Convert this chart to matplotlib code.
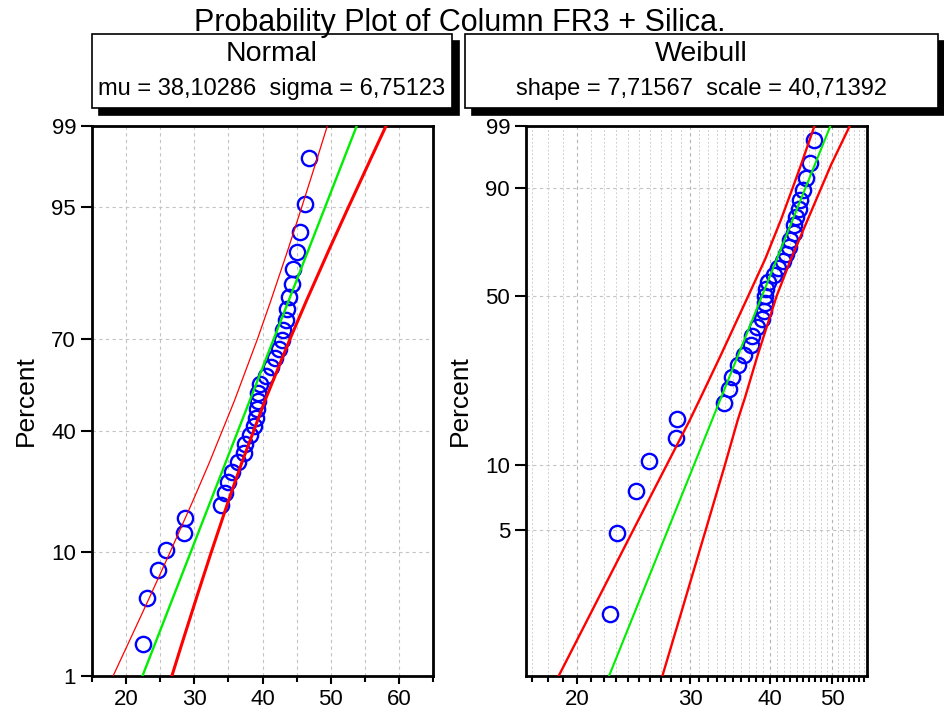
"""Probability plots (normal and Weibull) for column FR3 + Silica."""

from statistics import NormalDist

import matplotlib

matplotlib.use("Agg")
import matplotlib.pyplot as plt
import numpy as np
from matplotlib.patches import Rectangle
from matplotlib.ticker import FixedFormatter, FixedLocator, NullFormatter, NullLocator

plt.rcParams["font.family"] = ["Liberation Sans", "DejaVu Sans"]

# sorted sample (35 points), same in both panels
x_values = [22.5, 23.1, 24.7, 25.9, 28.5, 28.6, 33.9, 34.5, 34.9, 35.6,
            36.4, 37.3, 37.4, 38.2, 38.8, 39.1, 39.2, 39.3, 39.4, 39.7,
            40.5, 41.2, 41.8, 42.4, 42.8, 43.0, 43.5, 43.6, 43.9, 44.3,
            44.5, 45.0, 45.5, 46.2, 46.8]
# plotting positions in percent
percent = [1.98, 4.80, 7.63, 10.45, 13.28, 16.10, 18.93, 21.75, 24.58, 27.40,
           30.23, 33.05, 35.88, 38.70, 41.53, 44.35, 47.18, 50.00, 52.82, 55.65,
           58.47, 61.30, 64.12, 66.95, 69.77, 72.60, 75.42, 78.25, 81.07, 83.90,
           86.72, 89.55, 92.37, 95.20, 98.02]

norm_params = "mu = 38,10286  sigma = 6,75123"
weib_params = "shape = 7,71567  scale = 40,71392"

# fitted lines: x at 1 % and 99 %
line_pct = [1, 99]
norm_fit_x = [22.40, 53.81]
weib_fit_x = [22.43, 49.63]

# confidence bounds
norm_band_pct = [1, 2, 5, 10, 20, 30, 50, 70, 80, 90, 95, 98, 99]
norm_lower = [18.09, 20.29, 23.57, 26.43, 29.82, 32.18, 35.87, 39.26, 41.18, 43.74, 45.78, 48.03, 49.50]
norm_upper = [26.71, 28.18, 30.43, 32.47, 35.02, 36.95, 40.34, 44.03, 46.39, 49.77, 52.64, 55.91, 58.11]

weib_band_pct = [1, 2, 5, 10, 16, 20, 30, 50, 65, 80, 90, 95, 99]
weib_lower = [18.72, 21.00, 24.48, 27.58, 29.98, 31.15, 33.47, 36.96, 39.30, 41.53, 43.33, 44.68, 46.87]
weib_upper = [27.16, 29.04, 31.74, 33.99, 35.60, 36.53, 38.21, 40.93, 43.10, 45.70, 48.00, 49.77, 53.20]

norm_yticks = [1, 10, 40, 70, 95, 99]
weib_yticks = [5, 10, 50, 90, 99]
weib_xticks = [20, 30, 40, 50]

W, H = 945, 718
_nd = NormalDist()
_ppf = np.vectorize(_nd.inv_cdf, otypes=[float])
_cdf = np.vectorize(_nd.cdf, otypes=[float])


def normal_fwd(p):
    p = np.clip(np.asarray(p, dtype=float) / 100.0, 1e-6, 1 - 1e-6)
    return _ppf(p)


def normal_inv(z):
    return 100.0 * _cdf(np.asarray(z, dtype=float))


def weibull_fwd(p):
    p = np.clip(np.asarray(p, dtype=float) / 100.0, 1e-6, 1 - 1e-6)
    return np.log(-np.log(1 - p))


def weibull_inv(w):
    return 100.0 * (1 - np.exp(-np.exp(np.asarray(w, dtype=float))))


def header_box(fig, x0, x1, name, params):
    """Framed header with a drop shadow, pixel coords from the top-left."""
    top, bottom, off = 34, 108, 7
    for dx, face in ((off, "black"), (0, "white")):
        fig.patches.append(Rectangle(
            ((x0 + dx) / W, 1 - (bottom + dx) / H), (x1 - x0) / W, (bottom - top) / H,
            transform=fig.transFigure, facecolor=face, edgecolor="black", lw=1.2))
    cx = (x0 + x1) / 2 / W
    fig.text(cx, 1 - 54 / H, name, ha="center", va="center", fontsize=20.5)
    fig.text(cx, 1 - 89 / H, params, ha="center", va="center", fontsize=17)


def style_axes(ax):
    for sp in ax.spines.values():
        sp.set_linewidth(2)
    ax.tick_params(axis="both", which="both", direction="out", width=1.5,
                   labelsize=16, top=False, right=False)
    ax.tick_params(axis="y", which="major", length=8)
    ax.tick_params(axis="x", which="major", length=6)
    ax.tick_params(axis="x", which="minor", length=4)
    ax.yaxis.set_minor_locator(NullLocator())
    ax.set_ylabel("Percent", fontsize=19)
    ax.yaxis.set_label_coords(-0.16, 0.5)


fig = plt.figure(figsize=(W / 100, H / 100), dpi=100)
ax1 = fig.add_axes([92 / W, 42 / H, 341 / W, 550 / H])
ax2 = fig.add_axes([526 / W, 42 / H, 341 / W, 550 / H])

# normal panel
ax1.set_yscale("function", functions=(normal_fwd, normal_inv))
ax1.plot(x_values, percent, "o", mfc="none", mec="blue", ms=11, mew=1.7, zorder=3)
ax1.plot(norm_lower, norm_band_pct, color="red", lw=0.9, zorder=4)
ax1.plot(norm_upper, norm_band_pct, color="red", lw=2.2, zorder=4)
ax1.plot(norm_fit_x, line_pct, color="#00ee00", lw=1.7, zorder=4)
ax1.set_xlim(15, 65)
ax1.set_ylim(1, 99)
ax1.set_xticks([20, 30, 40, 50, 60])
ax1.set_xticks([15, 25, 35, 45, 55, 65], minor=True)
ax1.set_yticks(norm_yticks, labels=[str(t) for t in norm_yticks])
ax1.grid(True, which="both", axis="x", ls=(0, (3, 3)), color="#c4c4c4", lw=0.8)
ax1.grid(True, which="major", axis="y", ls=(0, (3, 3)), color="#c4c4c4", lw=0.8)
style_axes(ax1)

# weibull panel
ax2.set_xscale("log")
ax2.set_yscale("function", functions=(weibull_fwd, weibull_inv))
ax2.plot(x_values, percent, "o", mfc="none", mec="blue", ms=11, mew=1.7, zorder=3)
ax2.plot(weib_lower, weib_band_pct, color="red", lw=1.7, zorder=4)
ax2.plot(weib_upper, weib_band_pct, color="red", lw=1.7, zorder=4)
ax2.plot(weib_fit_x, line_pct, color="#00ee00", lw=1.5, zorder=4)
ax2.set_xlim(16.65, 56.6)
ax2.set_ylim(1, 99)
ax2.xaxis.set_major_locator(FixedLocator(weib_xticks))
ax2.xaxis.set_major_formatter(FixedFormatter([str(t) for t in weib_xticks]))
ax2.xaxis.set_minor_locator(FixedLocator([v for v in range(17, 57) if v % 10]))
ax2.xaxis.set_minor_formatter(NullFormatter())
ax2.set_yticks(weib_yticks, labels=[str(t) for t in weib_yticks])
ax2.grid(True, which="minor", axis="x", ls=(0, (2, 2)), color="#d0d0d0", lw=0.7)
ax2.grid(True, which="major", axis="x", ls=(0, (3, 3)), color="#b4b4b4", lw=0.8)
ax2.grid(True, which="major", axis="y", ls=(0, (3, 3)), color="#c4c4c4", lw=0.8)
style_axes(ax2)

fig.text(460 / W, 1 - 31 / H, "Probability Plot of Column FR3 + Silica.",
         ha="center", va="baseline", fontsize=22)
header_box(fig, 92, 452, "Normal", norm_params)
header_box(fig, 465, 938, "Weibull", weib_params)

fig.savefig("out.png", dpi=100)
